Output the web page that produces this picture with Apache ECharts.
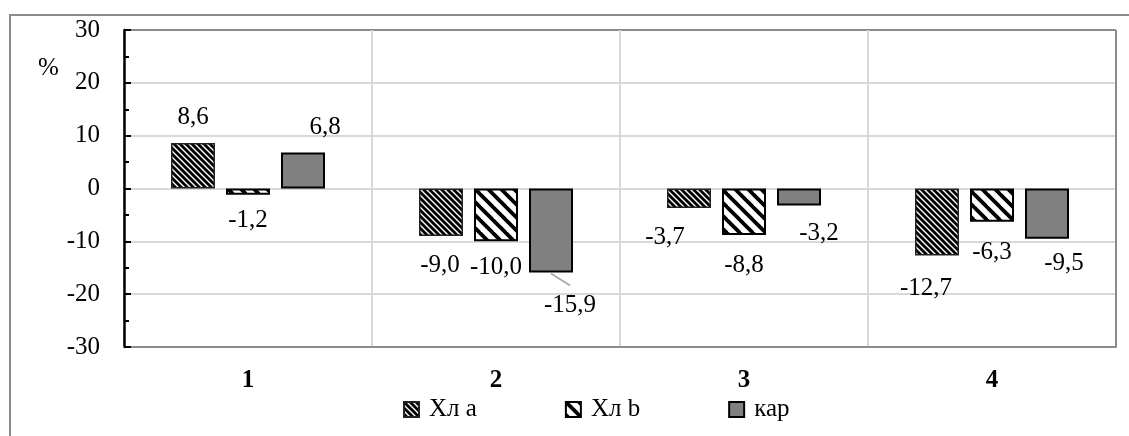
<!DOCTYPE html>
<html>
<head>
<meta charset="utf-8">
<script src="https://cdn.jsdelivr.net/npm/echarts@6/dist/echarts.min.js"></script>
<style>
  html, body { margin: 0; padding: 0; background: #fff; }
  #chart { width: 1129px; height: 436px; }
</style>
</head>
<body>
<div id="chart"></div>
<script>
// Samples along the x axis
const categories = ['1', '2', '3', '4'];
// Series names as shown in the legend
const seriesNames = ['Хл а', 'Хл b', 'кар'];
// Changes, %
const chlA = [8.6, -9.0, -3.7, -12.7];
const chlB = [-1.2, -10.0, -8.8, -6.3];
const kar = [6.8, -15.9, -3.2, -9.5];
// Value axis ticks
const yTicks = { min: -30, max: 30, step: 10 };

const FONT = "'Liberation Serif', 'Times New Roman', serif";
const FS = 25;

// Diagonal hatch tile: black stripes running top-left to bottom-right
function hatch(size, width) {
  const c = document.createElement('canvas');
  c.width = size; c.height = size;
  const g = c.getContext('2d');
  g.fillStyle = '#fff';
  g.fillRect(0, 0, size, size);
  g.strokeStyle = '#000';
  g.lineWidth = width;
  for (let k = -1; k <= 1; k++) {
    g.beginPath();
    g.moveTo(k * size - 2, -2);
    g.lineTo(k * size + size + 2, size + 2);
    g.stroke();
  }
  return { image: c, repeat: 'repeat' };
}

const fills = [hatch(6, 2.8), hatch(13, 3.8), '#808080'];
const borders = [{ c: '#222', w: 1.5 }, { c: '#000', w: 2 }, { c: '#000', w: 2 }];

// Hand placement of the value labels, [dx, dy] from the bar end
const labelShift = [
  [[0, -15], [-1, 18], [-24, 18], [-11, 22]],
  [[0, 15], [0, 15], [0, 19], [0, 20]],
  [[22, -14], [19, 22], [20, 17], [17, 14]]
];

const fmt = v => v.toFixed(1).replace('.', ',');

const seriesData = [chlA, chlB, kar];

const series = seriesData.map((vals, si) => ({
  name: seriesNames[si],
  type: 'bar',
  barWidth: 44,
  barGap: '25%',
  itemStyle: { color: fills[si], borderColor: borders[si].c, borderWidth: borders[si].w },
  label: {
    show: true,
    distance: 0,
    fontFamily: FONT,
    fontSize: FS,
    lineHeight: 22,
    color: '#000',
    formatter: p => fmt(p.value)
  },
  labelLayout: p => {
    const s = labelShift[p.seriesIndex][p.dataIndex];
    return { dx: s[0], dy: s[1] };
  },
  data: vals.map(v => ({ value: v, label: { position: v >= 0 ? 'top' : 'bottom' } }))
}));

const LIGHT = '#d9d9d9', FRAME = '#8c8c8c';
const ySplitColors = [];
for (let v = yTicks.min; v <= yTicks.max; v += yTicks.step) {
  ySplitColors.push(v === yTicks.min || v === yTicks.max ? FRAME : LIGHT);
}
const xSplitColors = categories.map(() => LIGHT).concat([FRAME]);

const baseGraphics = [
  {
    type: 'rect',
    silent: true,
    shape: { x: 10, y: 15, width: 1400, height: 700 },
    style: { fill: null, stroke: FRAME, lineWidth: 2 }
  },
  {
    type: 'text',
    left: 38,
    top: 56,
    style: { text: '%', font: FS + 'px ' + FONT, fill: '#000' }
  }
];

const chart = echarts.init(document.getElementById('chart'), null, { renderer: 'canvas' });
chart.setOption({
  animation: false,
  backgroundColor: '#fff',
  textStyle: { fontFamily: FONT },
  grid: { left: 124, right: 13, top: 30, bottom: 89 },
  legend: {
    data: seriesNames,
    left: 403,
    top: 397,
    padding: 0,
    itemWidth: 15,
    itemHeight: 15,
    itemGap: 88,
    icon: 'rect',
    textStyle: { fontFamily: FONT, fontSize: FS, color: '#000', padding: [0, 0, 0, 5] }
  },
  xAxis: {
    type: 'category',
    data: categories,
    position: 'bottom',
    axisLine: { onZero: false, lineStyle: { color: FRAME, width: 2 } },
    axisTick: { show: false },
    axisLabel: { fontFamily: FONT, fontSize: FS, fontWeight: 'bold', color: '#000', margin: 21 },
    splitLine: { show: true, lineStyle: { color: xSplitColors, width: 2 } }
  },
  yAxis: {
    type: 'value',
    min: yTicks.min,
    max: yTicks.max,
    interval: yTicks.step,
    axisLine: { show: true, lineStyle: { color: '#000', width: 2.5 } },
    axisTick: { show: true, inside: true, length: 7, lineStyle: { color: '#000', width: 2 } },
    minorTick: { show: true, splitNumber: 2, length: 5, lineStyle: { color: '#000', width: 2 } },
    axisLabel: { fontFamily: FONT, fontSize: FS, color: '#000', margin: 24 },
    splitLine: { show: true, lineStyle: { color: ySplitColors, width: 2 } }
  },
  graphic: baseGraphics,
  series: series
});

// Leader line from the bottom of the "кар" bar in sample 2 to its moved label
try {
  const lay = chart.getModel().getSeriesByIndex(2).getData().getItemLayout(1);
  const x0 = lay.x + lay.width / 2;
  const y0 = lay.y + lay.height;
  chart.setOption({
    graphic: baseGraphics.concat([{
      type: 'line',
      silent: true,
      shape: { x1: x0, y1: y0 + 1, x2: x0 + 19, y2: y0 + 13 },
      style: { stroke: '#a6a6a6', lineWidth: 1.5 }
    }])
  });
} catch (e) { /* leave the label without a leader */ }
</script>
</body>
</html>
